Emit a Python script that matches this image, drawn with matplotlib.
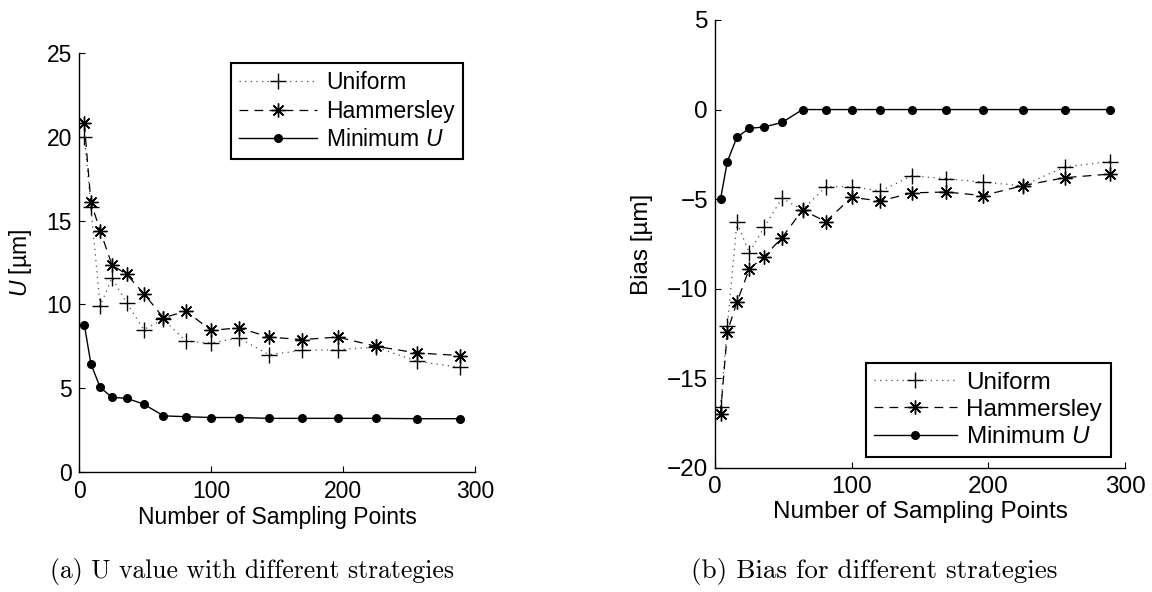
"""
Sampling strategies: U value and bias vs. number of sampling points.
Two MATLAB-style panels side by side, each with a LaTeX-style caption under it.
"""
import matplotlib
matplotlib.use("Agg")
import matplotlib.pyplot as plt

# sampling grid sizes (perfect squares)
n_points = [4, 9, 16, 25, 36, 49, 64, 81, 100, 121, 144, 169, 196, 225, 256, 289]

# panel (a): U [um]
u_uniform = [20.0, 15.8, 9.9, 11.6, 10.1, 8.5, 9.1, 7.8, 7.7, 8.0, 7.0, 7.25, 7.3, 7.45, 6.6, 6.25]
u_hammersley = [20.8, 16.1, 14.4, 12.35, 11.8, 10.65, 9.2, 9.6, 8.45, 8.6, 8.05, 7.9, 8.05, 7.5, 7.1, 6.95]
u_minimum = [8.8, 6.45, 5.05, 4.45, 4.4, 4.05, 3.35, 3.3, 3.25, 3.25, 3.2, 3.2, 3.2, 3.2, 3.18, 3.18]

# panel (b): bias [um]
b_uniform = [-16.6, -12.1, -6.3, -8.0, -6.55, -4.95, -5.6, -4.3, -4.3, -4.55, -3.7, -3.85, -4.05, -4.25, -3.2, -2.9]
b_hammersley = [-17.0, -12.4, -10.75, -8.9, -8.2, -7.15, -5.6, -6.25, -4.9, -5.1, -4.65, -4.6, -4.8, -4.25, -3.8, -3.6]
b_minimum = [-5.0, -2.9, -1.55, -1.05, -0.97, -0.72, 0, 0, 0, 0, 0, 0, 0, 0, 0, 0]

series_labels = ["Uniform", "Hammersley", "Minimum $U$"]
captions = ["(a) U value with different strategies", "(b) Bias for different strategies"]

plt.rcParams.update({
    "font.family": "Liberation Sans",
    "mathtext.fontset": "custom",
    "mathtext.rm": "Liberation Sans",
    "mathtext.it": "Liberation Sans:italic",
    "axes.linewidth": 1.0,
    "xtick.direction": "in", "ytick.direction": "in",
    "xtick.major.size": 4, "ytick.major.size": 4,
    "xtick.major.pad": 6, "ytick.major.pad": 5,
})

ASTER = (8, 2, 0)  # MATLAB-like '*' marker


def draw(ax, uni, ham, mini, fs):
    ax.plot(n_points, uni, color="0.3", ls=(0, (1, 3.5)), lw=0.9, marker="+",
            ms=11, mew=1.0, mec="k", label=series_labels[0])
    ax.plot(n_points, ham, color="k", ls=(0, (7, 5)), lw=0.9, marker=ASTER,
            ms=10, mew=1.0, mec="k", label=series_labels[1])
    ax.plot(n_points, mini, color="k", ls="-", lw=1.0, marker="o",
            ms=5.5, mfc="k", mec="k", label=series_labels[2])
    for s in ("top", "right"):
        ax.spines[s].set_visible(False)
    ax.set_xlim(0, 300)
    ax.set_xticks([0, 100, 200, 300])
    ax.tick_params(labelsize=fs)
    ax.set_xlabel("Number of Sampling Points", fontsize=fs, labelpad=2)


def legend(ax, fs, **kw):
    leg = ax.legend(fancybox=False, edgecolor="k", framealpha=1, fontsize=fs,
                    handlelength=3.4, handletextpad=0.4, labelspacing=0.22,
                    borderpad=0.35, borderaxespad=0, **kw)
    leg.get_frame().set_linewidth(1.5)


fig = plt.figure(figsize=(11.52, 5.92), dpi=100)
ax1 = fig.add_axes([0.0686, 0.2027, 0.3437, 0.7078])
ax2 = fig.add_axes([0.6207, 0.2095, 0.3559, 0.7568])

FS_A, FS_B = 16.5, 17.5

draw(ax1, u_uniform, u_hammersley, u_minimum, FS_A)
ax1.set_ylim(0, 25)
ax1.set_yticks([0, 5, 10, 15, 20, 25])
ax1.set_ylabel("$U$ [µm]", fontsize=FS_A, labelpad=9)
legend(ax1, FS_A, loc="upper right", bbox_to_anchor=(0.97, 0.975))

draw(ax2, b_uniform, b_hammersley, b_minimum, FS_B)
ax2.set_ylim(-20, 5)
ax2.set_yticks([-20, -15, -10, -5, 0, 5])
ax2.set_ylabel("Bias [µm]", fontsize=FS_B, labelpad=10)
legend(ax2, FS_B, loc="lower right", bbox_to_anchor=(0.965, 0.025))

fig.text(0.219, 0.035, captions[0], ha="center", va="center", family="cmr10", fontsize=18.5)
fig.text(0.759, 0.035, captions[1], ha="center", va="center", family="cmr10", fontsize=19.5)

fig.savefig("out.png", dpi=100)
